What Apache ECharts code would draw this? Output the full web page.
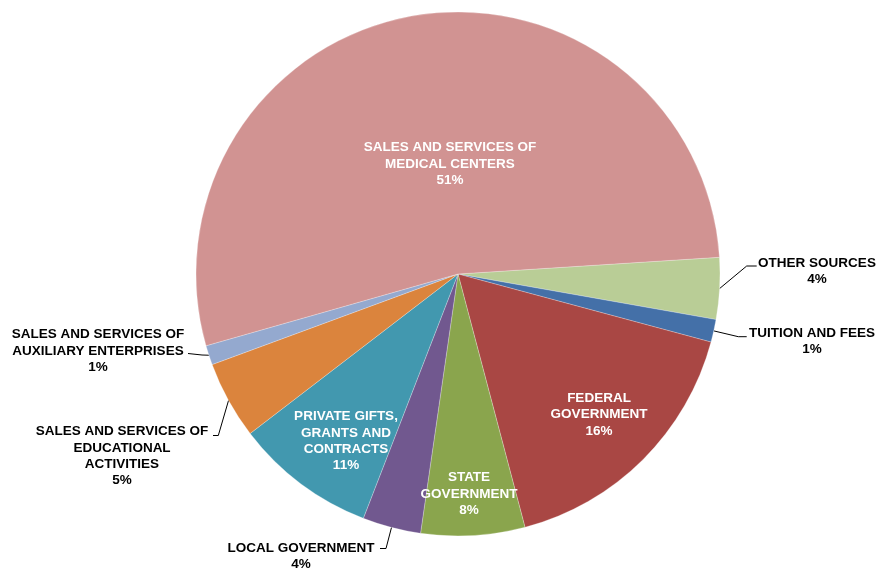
<!DOCTYPE html>
<html>
<head>
<meta charset="utf-8">
<script src="https://cdn.jsdelivr.net/npm/echarts@6/dist/echarts.min.js"></script>
<style>html,body{margin:0;padding:0;background:#fff}#c{width:880px;height:571px}</style>
</head>
<body>
<div id="c"></div>
<script>
// Data (clockwise starting just above 3 o'clock)
const categories = [
  "OTHER SOURCES",
  "TUITION AND FEES",
  "FEDERAL\nGOVERNMENT",
  "STATE\nGOVERNMENT",
  "LOCAL GOVERNMENT",
  "PRIVATE GIFTS,\nGRANTS AND\nCONTRACTS",
  "SALES AND SERVICES OF\nEDUCATIONAL\nACTIVITIES",
  "SALES AND SERVICES OF\nAUXILIARY ENTERPRISES",
  "SALES AND SERVICES OF\nMEDICAL CENTERS"
];
const values = [3.8, 1.4, 16.7, 6.4, 3.6, 8.7, 4.8, 1.2, 53.4];
const shownPercent = [4, 1, 16, 8, 4, 11, 5, 1, 51];

// Styles / layout
const colors = ["#B9CD96", "#4470A8", "#A94744", "#8AA54D", "#71588F", "#4298AF", "#DB843D", "#94A9CF", "#D19392"];
const insideLabel = [false, false, true, true, false, true, false, false, true];
const labelPlace = [
  {x: 817, y: 271, line: [[746.7, 266], [756.7, 266]]},
  {x: 812, y: 341.5, line: [[738.3, 336.7], [746.7, 336.7]]},
  {x: 599, y: 414.5},
  {x: 469, y: 494},
  {x: 301, y: 556, line: [[386, 548.5], [380, 548.5]]},
  {x: 346, y: 441},
  {x: 122, y: 456, line: [[218.3, 435.5], [213, 435.5]]},
  {x: 98, y: 351, line: [[202, 355], [188, 353.5]]},
  {x: 450, y: 164}
];

const data = categories.map((n, i) => ({
  name: n,
  value: values[i],
  itemStyle: {color: colors[i]},
  label: {
    position: insideLabel[i] ? 'inside' : 'outside',
    color: insideLabel[i] ? '#ffffff' : '#000000'
  },
  labelLine: {show: !insideLabel[i]}
}));

const chart = echarts.init(document.getElementById('c'), null, {renderer: 'canvas'});
chart.setOption({
  animation: false,
  backgroundColor: '#ffffff',
  series: [{
    type: 'pie',
    center: [458, 274],
    radius: 262,
    startAngle: 3.66,
    clockwise: true,
    avoidLabelOverlap: false,
    data: data,
    itemStyle: {borderColor: 'rgba(255,255,255,0.5)', borderWidth: 0.5},
    label: {
      show: true,
      fontFamily: '"Liberation Sans", Arial, sans-serif',
      fontWeight: 'bold',
      fontSize: 13.5,
      lineHeight: 16.3,
      align: 'center',
      formatter: p => p.name + '\n' + shownPercent[p.dataIndex] + '%'
    },
    labelLine: {
      show: true,
      length: 10,
      length2: 10,
      lineStyle: {color: '#000000', width: 1}
    },
    labelLayout: function (params) {
      const i = params.dataIndex;
      const L = labelPlace[i];
      const out = {x: L.x, y: L.y, align: 'center', verticalAlign: 'middle'};
      if (L.line && params.labelLinePoints) {
        out.labelLinePoints = [params.labelLinePoints[0]].concat(L.line);
      }
      return out;
    }
  }]
});
</script>
</body>
</html>
